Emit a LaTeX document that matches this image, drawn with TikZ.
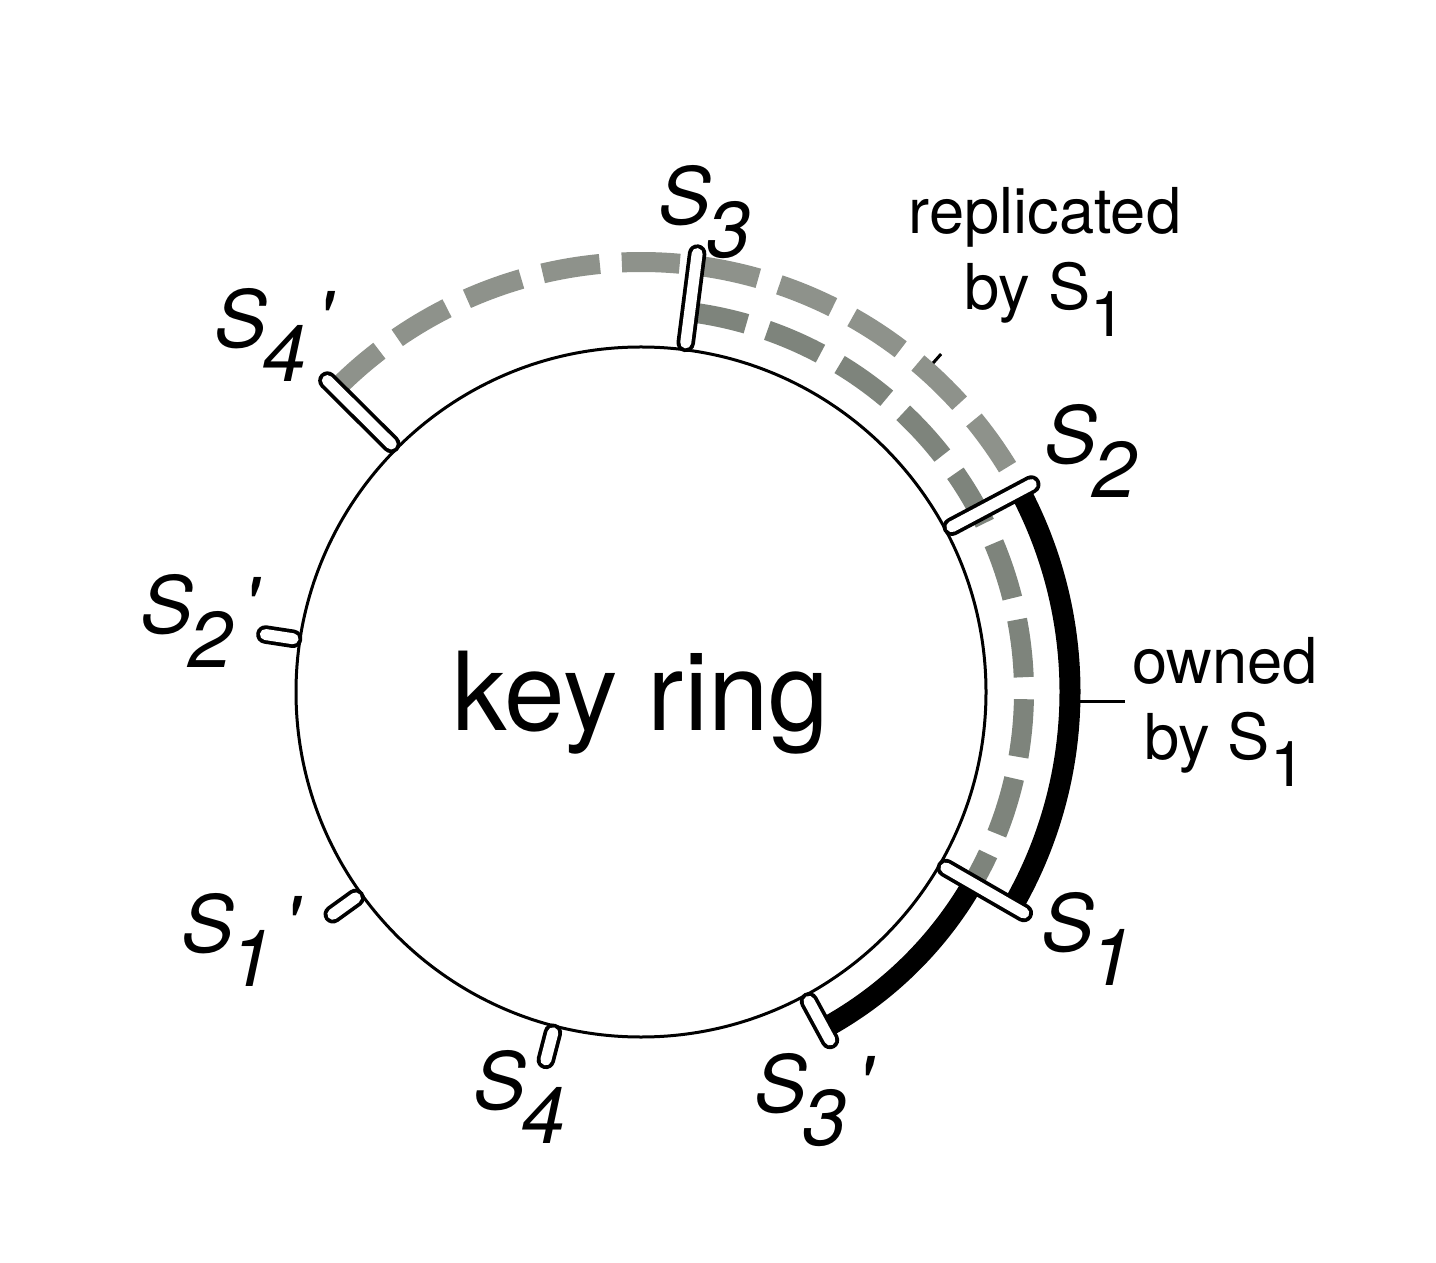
\documentclass[tikz,border=0pt]{standalone}
\usepackage{fontspec}
\setmainfont{TeX Gyre Heros}
\usetikzlibrary{calc}
\definecolor{repout}{RGB}{142,146,139}
\definecolor{repin}{RGB}{126,132,124}
\newcommand{\dn}[1]{\raisebox{-0.42em}{#1}}
\newcommand{\srv}[2]{\textit{S}\kern-0.06em\dn{\textit{#1}}\kern0.12em\textit{#2}}
\tikzset{
  ring/.style={line width=0.03cm},
  tickbar/.style={line width=0.185cm,line cap=round},
  replica/.style={line width=0.2cm,dash pattern=on 0.58cm off 0.22cm},
  owned/.style={line width=0.21cm},
  lbl/.style={font=\fontsize{22.5}{27}\selectfont,inner sep=0pt},
  note/.style={font=\fontsize{18}{21.5}\selectfont,align=center,inner sep=0pt}
}

\begin{document}
\begin{tikzpicture}
\useasboundingbox (-6.41,-5.70) rectangle (7.95,6.92);
\draw[ring] (0,0) circle (3.45);
\node[font=\fontsize{31}{37}\selectfont,inner sep=0pt,anchor=base] (kr) at (0,-0.38) {key ring};
% replicas
\draw[replica,repout] (135.2:4.30) arc (135.2:28:4.30);
\draw[replica,repin] (82.7:3.83) arc (82.7:-30:3.83);
% owned range
\draw[owned] (28:4.29) arc (28:-30:4.29) (-30:3.83) arc (-30:-61.5:3.83);
% server ticks
\foreach \a/\r in {82.7/4.42,28/4.42,-30/4.42,135.2/4.42,-61.5/3.96,-104.5/3.80,215.8/3.80,171.3/3.80}{
  \draw[tickbar] (\a:3.52) -- (\a:\r);
  \draw[tickbar,line width=0.11cm,white] (\a:3.52) -- (\a:\r);
}
% labels
\node[lbl] (s3) at (0.68,4.80) {\srv{3}{}};
\node[lbl] (s2) at (4.55,2.41) {\srv{2}{}};
\node[lbl] (s1) at (4.51,-2.47) {\srv{1}{}};
\node[lbl] (s3p) at (1.74,-4.08) {\srv{3}{\textquotesingle}};
\node[lbl] (s4) at (-1.17,-4.05) {\srv{4}{}};
\node[lbl] (s1p) at (-3.99,-2.48) {\srv{1}{\textquotesingle}};
\node[lbl] (s2p) at (-4.40,0.71) {\srv{2}{\textquotesingle}};
\node[lbl] (s4p) at (-3.66,3.57) {\srv{4}{\textquotesingle}};
\node[note] (rep) at (4.04,4.30) {replicated\\by S\dn{1}};
\node[note] (own) at (5.84,-0.20) {owned\\by S\dn{1}};
\coordinate (repa) at (48.4:4.40);
\coordinate (repb) at (48.4:4.52);
\coordinate (owna) at (-1.3:4.39);
\draw[ring] (repa) -- (repb);
\draw[ring] (owna) -- ([xshift=-0.06cm]owna -| own.west);
\end{tikzpicture}
\end{document}
